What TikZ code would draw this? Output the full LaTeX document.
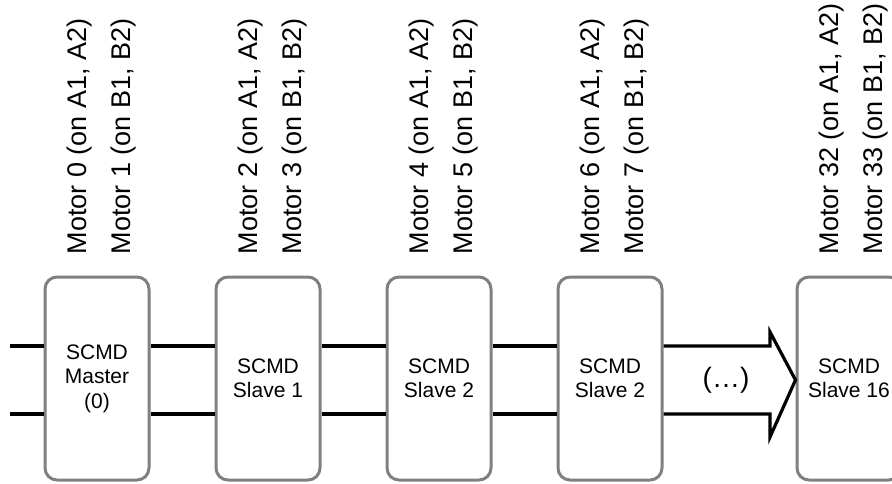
\documentclass[tikz,border=0pt]{standalone}
\usepackage{fontspec}
\setmainfont{Liberation Sans}
\usetikzlibrary{calc}
\begin{document}
\begin{tikzpicture}[x=1pt,y=-1pt,
	scmd/.style={draw=gray, fill=white, line width=3pt, rounded corners=12pt,
		minimum width=104pt, minimum height=203pt, align=center,
		font=\fontsize{21}{24.5}\selectfont},
	wire/.style={line width=3.2pt},
	motor/.style={rotate=90, anchor=base west, inner sep=0pt,
		font=\fontsize{27}{30}\selectfont}]
	\useasboundingbox (0,0) rectangle (892,483);
	% levels of the two bus lines
	\coordinate (top) at (0,346);
	\coordinate (bot) at (0,414);
	\coordinate (mid) at (0,380);
	\coordinate (in) at (10,0);
	\coordinate (hx) at (770,0);
	\coordinate (headtop) at (0,332);
	\coordinate (headbot) at (0,437);

	% boards
	\node[scmd] (m0) at (97,378.5) {SCMD\\Master\\(0)};
	\node[scmd] (s1) at (268,378.5) {SCMD\\Slave 1};
	\node[scmd] (s2) at (439,378.5) {SCMD\\Slave 2};
	\node[scmd] (s3) at (610,378.5) {SCMD\\Slave 2};
	\node[scmd] (s16) at (849,378.5) {SCMD\\Slave 16};

	% bus
	\draw[wire] (in |- top) -- (m0.west |- top);
	\draw[wire] (in |- bot) -- (m0.west |- bot);
	\draw[wire] (m0.east |- top) -- (s1.west |- top);
	\draw[wire] (m0.east |- bot) -- (s1.west |- bot);
	\draw[wire] (s1.east |- top) -- (s2.west |- top);
	\draw[wire] (s1.east |- bot) -- (s2.west |- bot);
	\draw[wire] (s2.east |- top) -- (s3.west |- top);
	\draw[wire] (s2.east |- bot) -- (s3.west |- bot);
	\draw[wire] (s3.east |- top) -- (hx |- top) -- (hx |- headtop) -- (s16.west |- mid)
		-- (hx |- headbot) -- (hx |- bot) -- (s3.east |- bot);
	\node[font=\fontsize{28}{30}\selectfont] (dots) at (726,380) {(…)};

	% motors on each board
	\foreach \b/\i/\j in {m0/0/1, s1/2/3, s2/4/5, s3/6/7, s16/32/33} {
		\node[motor] (mA\i) at ($(\b.north)+(-11,-21)$) {Motor \i\ (on A1, A2)};
		\node[motor] (mB\j) at ($(\b.north)+(33,-21)$) {Motor \j\ (on B1, B2)};
	}
\end{tikzpicture}
\end{document}
